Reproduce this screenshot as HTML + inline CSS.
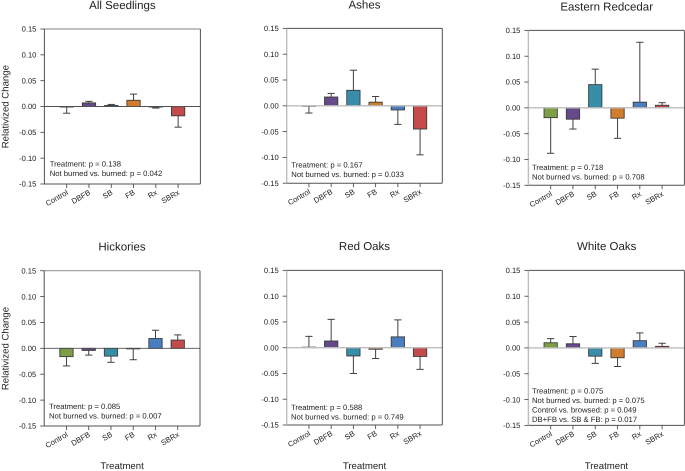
<!DOCTYPE html>
<html>
<head>
<meta charset="utf-8">
<style>
html,body{margin:0;padding:0;background:#fff;}
#fig{display:block;width:685px;height:471px;}
text{font-family:"Liberation Sans",Arial,sans-serif;fill:#222;text-rendering:geometricPrecision;}
</style>
</head>
<body>
<svg id="fig" width="685" height="471" viewBox="0 0 685 471" xmlns="http://www.w3.org/2000/svg"></svg>
<script>
const categories = ['Control','DBFB','SB','FB','Rx','SBRx'];
const barColors = ['#7d9e46','#654a8b','#388da8','#d07d30','#4a7ebf','#c44b4b'];
const yTicks = [0.15,0.10,0.05,0.00,-0.05,-0.10,-0.15];
const titles = ['All Seedlings','Ashes','Eastern Redcedar','Hickories','Red Oaks','White Oaks'];
const seedlingsMeans = [-0.001,0.007,0.002,0.012,-0.001,-0.018];
const seedlingsErrEnds = [-0.013,0.010,0.004,0.024,-0.003,-0.040];
const ashesMeans = [-0.001,0.017,0.030,0.007,-0.008,-0.045];
const ashesErrEnds = [-0.014,0.024,0.069,0.018,-0.036,-0.095];
const redcedarMeans = [-0.019,-0.022,0.045,-0.020,0.011,0.005];
const redcedarErrEnds = [-0.088,-0.041,0.075,-0.059,0.127,0.010];
const hickoriesMeans = [-0.016,-0.004,-0.015,-0.001,0.019,0.016];
const hickoriesErrEnds = [-0.034,-0.013,-0.027,-0.022,0.035,0.026];
const redOaksMeans = [0.001,0.013,-0.016,-0.003,0.021,-0.017];
const redOaksErrEnds = [0.022,0.055,-0.050,-0.021,0.054,-0.042];
const whiteOaksMeans = [0.010,0.008,-0.016,-0.019,0.014,0.003];
const whiteOaksErrEnds = [0.018,0.022,-0.030,-0.036,0.029,0.009];
const seedlingsNotes = ['Treatment: p = 0.138','Not burned vs. burned: p = 0.042'];
const ashesNotes = ['Treatment: p = 0.167','Not burned vs. burned: p = 0.033'];
const redcedarNotes = ['Treatment: p = 0.718','Not burned vs. burned: p = 0.708'];
const hickoriesNotes = ['Treatment: p = 0.085','Not burned vs. burned: p = 0.007'];
const redOaksNotes = ['Treatment: p = 0.588','Not burned vs. burned: p = 0.749'];
const whiteOaksNotes = ['Treatment: p = 0.075','Not burned vs. burned: p = 0.075','Control vs. browsed: p = 0.049','DB+FB vs. SB & FB: p = 0.017'];

const panelData = [
  {key:'all-seedlings', means:seedlingsMeans, ends:seedlingsErrEnds, notes:seedlingsNotes},
  {key:'ashes', means:ashesMeans, ends:ashesErrEnds, notes:ashesNotes},
  {key:'eastern-redcedar', means:redcedarMeans, ends:redcedarErrEnds, notes:redcedarNotes},
  {key:'hickories', means:hickoriesMeans, ends:hickoriesErrEnds, notes:hickoriesNotes},
  {key:'red-oaks', means:redOaksMeans, ends:redOaksErrEnds, notes:redOaksNotes},
  {key:'white-oaks', means:whiteOaksMeans, ends:whiteOaksErrEnds, notes:whiteOaksNotes}
];
const panelLayout = [
  {l:44.4,r:200.4,t:29,b:184,titleX:122.4,titleY:9,noteX:49.7,noteY:166.5,leftLight:false,topLight:true,zeroLight:false,yLabel:true,xLabel:false},
  {l:286.7,r:442.3,t:28.4,b:183.2,titleX:364.5,titleY:8.5,noteX:291.3,noteY:167.4,leftLight:true,topLight:false,zeroLight:true,yLabel:false,xLabel:false},
  {l:528.4,r:684.4,t:30.4,b:185.3,titleX:606.7,titleY:10.4,noteX:532,noteY:170,leftLight:true,topLight:false,zeroLight:true,yLabel:false,xLabel:false},
  {l:44.2,r:200,t:270.7,b:426,titleX:122,titleY:250.7,noteX:49,noteY:409,leftLight:false,topLight:true,zeroLight:false,yLabel:true,xLabel:true},
  {l:286.7,r:442.3,t:270.4,b:425,titleX:364.5,titleY:250,noteX:291,noteY:410,leftLight:true,topLight:false,zeroLight:true,yLabel:false,xLabel:true},
  {l:528.4,r:684.4,t:270.4,b:425.4,titleX:606.7,titleY:250,noteX:532,noteY:393.4,leftLight:true,topLight:false,zeroLight:true,yLabel:false,xLabel:true}
];

const NS = 'http://www.w3.org/2000/svg';
const fig = document.getElementById('fig');
function make(parent, tag, attrs, txt){
  const n = document.createElementNS(NS, tag);
  for (const k in attrs) n.setAttribute(k, attrs[k]);
  if (txt !== undefined) n.textContent = txt;
  parent.appendChild(n);
  return n;
}
const DARK = '#505050', LIGHT = '#bdbdbd', ERR = '#404040';

panelData.forEach(function(p, pi){
  const g = panelLayout[pi];
  const xScale = function(i){ return g.l + (i + 1) * (g.r - g.l) / 7; };
  const yScale = function(v){ return g.t + (0.15 - v) / 0.30 * (g.b - g.t); };
  const barW = 13.3;
  const step = 9.45;

  const group = make(fig, 'g', {});
  
  

  const title = make(group, 'text', {x:g.titleX, y:g.titleY, 'text-anchor':'middle', 'font-size':'11.5'}, titles[pi]);
  
  

  p.means.forEach(function(v, i){
    const cx = xScale(i);
    const y0 = yScale(0), yv = yScale(v), ye = yScale(p.ends[i]);
    const eb = make(group, 'g', {stroke:ERR, 'stroke-width':'1', fill:'none'});
    
    
    make(eb, 'line', {x1:cx, x2:cx, y1:yv, y2:ye});
    make(eb, 'line', {x1:cx-3.6, x2:cx+3.6, y1:ye, y2:ye});
    const bar = make(group, 'rect', {
      x:cx-barW/2, y:Math.min(y0,yv), width:barW, height:Math.max(Math.abs(y0-yv),0.3),
      fill:barColors[i], stroke:'#3c3c3c', 'stroke-width':'0.9'
    });
    
    
  });

  const zero = make(group, 'line', {x1:g.l, x2:g.r, y1:yScale(0), y2:yScale(0),
    stroke:g.zeroLight?LIGHT:DARK, 'stroke-width':g.zeroLight?'1.4':'0.9'});
  
  

  const spines = make(group, 'g', {fill:'none'});
  
  
  make(spines, 'line', {x1:g.l, x2:g.r, y1:g.t, y2:g.t, stroke:g.topLight?'#9a9a9a':DARK, 'stroke-width':g.topLight?'1.2':'1'});
  make(spines, 'line', {x1:g.l, x2:g.r, y1:g.b, y2:g.b, stroke:DARK, 'stroke-width':'1'});
  make(spines, 'line', {x1:g.r, x2:g.r, y1:g.t, y2:g.b, stroke:DARK, 'stroke-width':'1'});
  make(spines, 'line', {x1:g.l, x2:g.l, y1:g.t, y2:g.b, stroke:g.leftLight?LIGHT:DARK, 'stroke-width':g.leftLight?'1.4':'1'});

  yTicks.forEach(function(t){
    const y = yScale(t);
    make(group, 'line', {x1:g.l-4, x2:g.l, y1:y, y2:y, stroke:DARK, 'stroke-width':'0.9'});
    const lab = make(group, 'text', {x:g.l-8, y:y+2.7, 'text-anchor':'end', 'font-size':'7.6'}, t.toFixed(2));
    
    
  });

  categories.forEach(function(c, i){
    const x = xScale(i);
    make(group, 'line', {x1:x, x2:x, y1:g.b, y2:g.b+4, stroke:DARK, 'stroke-width':'0.9'});
    const ax = x + 2, ay = g.b + 10;
    const lab = make(group, 'text', {x:ax, y:ay, 'text-anchor':'end', 'font-size':'7.6',
      transform:'rotate(-30 ' + ax + ' ' + ay + ')'}, c);
    
    
  });

  p.notes.forEach(function(n, i){
    const note = make(group, 'text', {x:g.noteX, y:g.noteY + i * step, 'font-size':'7.7'}, n);
    
    
  });

  if (g.yLabel){
    const cy = (g.t + g.b) / 2 + 0.2;
    const yl = make(group, 'text', {x:8.4, y:cy, 'text-anchor':'middle', 'font-size':'9.6',
      transform:'rotate(-90 8.4 ' + cy + ')'}, 'Relativized Change');
    
    
  }
  if (g.xLabel){
    const xl = make(group, 'text', {x:(g.l + g.r) / 2, y:469, 'text-anchor':'middle', 'font-size':'9.6'}, 'Treatment');
    
    
  }
});
</script>
</body>
</html>
